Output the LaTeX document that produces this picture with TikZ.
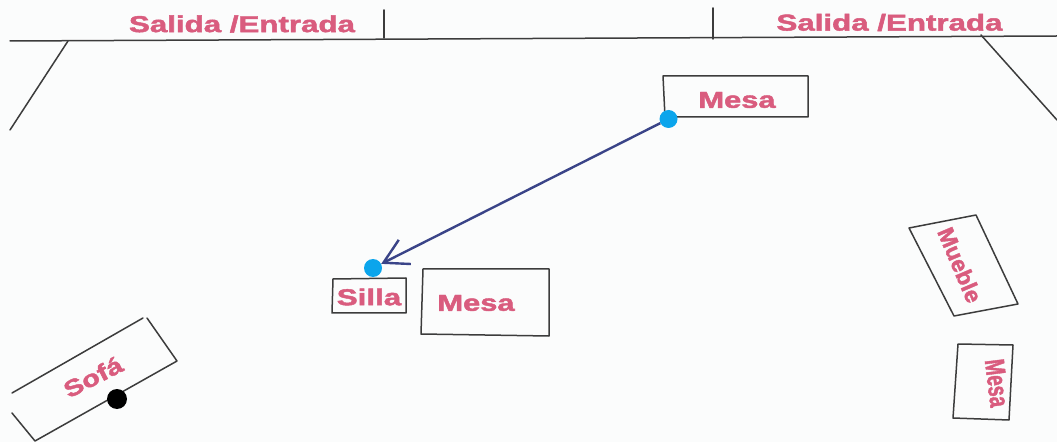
\documentclass[tikz,border=0pt]{standalone}
\usepackage{fontspec}
\usepackage{tikz}
\usetikzlibrary{arrows.meta}
\setmainfont{Liberation Sans}[BoldFeatures={FakeBold=1.8}]
\definecolor{labelpink}{HTML}{D95C7E}
\definecolor{dotblue}{HTML}{0BA5EC}
\definecolor{arrowblue}{HTML}{3A4488}
\definecolor{wallgray}{HTML}{3C3C3C}
\definecolor{paper}{HTML}{FBFCFC}
\tikzset{
  wall/.style={draw=wallgray,line width=1.5pt,line cap=round,line join=round},
  lbl/.style={text=labelpink,font=\fontsize{23}{23}\selectfont\bfseries,inner sep=0pt,transform shape},
  dot/.style={circle,inner sep=0pt,minimum size=#1}
}
\begin{document}
\begin{tikzpicture}[x=1pt,y=1pt]
\fill[paper] (0,0) rectangle (1057,442);
\useasboundingbox (0,0) rectangle (1057,442);
\draw[wall] (10,401) -- (1057,406);
\draw[wall] (384,432) -- (384,404);
\draw[wall] (713,434) -- (713,403);
\draw[wall] (68,401) -- (10,312);
\draw[wall] (981,407) -- (1057,322);
\draw[wall] (663,366) -- (808,366) -- (808,325) -- (665,325) -- cycle;
\draw[wall] (333,163) -- (406,164) -- (406,129) -- (332,129) -- cycle;
\draw[wall] (423,173) -- (549,173) -- (549,106) -- (421,108) -- cycle;
\draw[wall] (12,49) -- (143,124) (147,124) -- (177,81) -- (35,1) -- (12,29);
\draw[wall] (909,214) -- (976,227) -- (1018,138) -- (954,126) -- cycle;
\draw[wall] (958,98) -- (1013,97) -- (1009,22) -- (953,24) -- cycle;
\node[lbl,xscale=1.36] (salidaleft) at (242,418) {Salida /Entrada};
\node[lbl,xscale=1.36] (salidaright) at (889.5,419.5) {Salida /Entrada};
\node[lbl,xscale=1.34] (mesatop) at (737,342) {Mesa};
\node[lbl,xscale=1.36] (silla) at (369,145) {Silla};
\node[lbl,xscale=1.34] (mesacenter) at (476,139) {Mesa};
\node[lbl,rotate=27,xscale=1.26] (sofa) at (93,65) {Sofá};
\node[lbl,rotate=-67] (mueble) at (960,177) {Mueble};
\node[lbl,rotate=-83,xscale=0.83,yscale=1.2] (mesaright) at (997,59) {Mesa};
\node[dot=18pt,fill=dotblue] (mesadot) at (668.5,323) {};
\node[dot=18pt,fill=dotblue] (silladot) at (373,174) {};
\node[dot=20pt,fill=black] (sofadot) at (117,43) {};
\draw[-{Straight Barb[length=24pt,width=27pt]},draw=arrowblue,line width=2.4pt] (mesadot) -- (silladot);
\end{tikzpicture}
\end{document}
